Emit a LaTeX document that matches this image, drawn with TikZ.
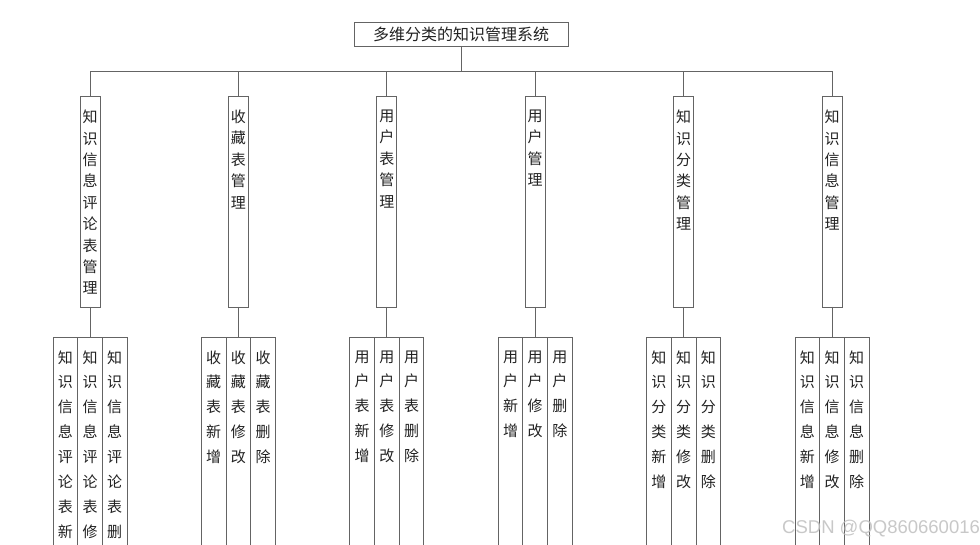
\documentclass[tikz,border=0pt]{standalone}
\usepackage{fontspec}
\setmainfont{Noto Sans CJK SC}
\newfontfamily\wmfont{Liberation Sans}
\usetikzlibrary{positioning}
\definecolor{linec}{HTML}{646464}
\definecolor{textc}{HTML}{222222}
\def\modtext#1{\parbox[c][211pt][t]{20pt}{\centering\vspace*{14pt}#1}}
\def\subtext#1{\parbox[c][230pt][t]{24.7pt}{\centering\vspace*{13.5pt}#1}}
\tikzset{
  sysbox/.style={draw=linec, line width=0.8pt, inner sep=0pt, outer sep=0pt, minimum width=214pt, minimum height=24pt, text=textc, font=\fontsize{16}{18}\selectfont},
  modbox/.style={draw=linec, line width=0.8pt, inner sep=0pt, outer sep=0pt, anchor=north, text=textc, font=\fontsize{15}{21.4}\selectfont},
  subbox/.style={draw=linec, line width=0.8pt, inner sep=0pt, outer sep=0pt, anchor=north, text=textc, font=\fontsize{15}{24.85}\selectfont},
  link/.style={draw=linec, line width=0.8pt}
}

\begin{document}
\begin{tikzpicture}[x=1pt, y=-1pt]
			%%%%% START %%%%%
			\useasboundingbox (0,0) rectangle (980,545);
			\clip (0,0) rectangle (980,545);
			\fill[white] (0,0) rectangle (980,545);
			
			\node[sysbox] (sys) at (461,34) {多维分类的知识管理系统};
			\coordinate (bus) at (461,71);
			
			% second level
			\node[modbox] (m1) at (90,96) {\modtext{知\\识\\信\\息\\评\\论\\表\\管\\理}};
			\node[modbox] (m2) at (238.4,96) {\modtext{收\\藏\\表\\管\\理}};
			\node[modbox] (m3) at (386.8,96) {\modtext{用\\户\\表\\管\\理}};
			\node[modbox] (m4) at (535.2,96) {\modtext{用\\户\\管\\理}};
			\node[modbox] (m5) at (683.6,96) {\modtext{知\\识\\分\\类\\管\\理}};
			\node[modbox] (m6) at (832,96) {\modtext{知\\识\\信\\息\\管\\理}};
			
			% third level
			\node[subbox] (m1b) at (90,337) {\subtext{知\\识\\信\\息\\评\\论\\表\\修\\改}};
			\node[subbox, left=0pt of m1b] (m1a) {\subtext{知\\识\\信\\息\\评\\论\\表\\新\\增}};
			\node[subbox, right=0pt of m1b] (m1c) {\subtext{知\\识\\信\\息\\评\\论\\表\\删\\除}};
			
			\node[subbox] (m2b) at (238.4,337) {\subtext{收\\藏\\表\\修\\改}};
			\node[subbox, left=0pt of m2b] (m2a) {\subtext{收\\藏\\表\\新\\增}};
			\node[subbox, right=0pt of m2b] (m2c) {\subtext{收\\藏\\表\\删\\除}};
			
			\node[subbox] (m3b) at (386.8,337) {\subtext{用\\户\\表\\修\\改}};
			\node[subbox, left=0pt of m3b] (m3a) {\subtext{用\\户\\表\\新\\增}};
			\node[subbox, right=0pt of m3b] (m3c) {\subtext{用\\户\\表\\删\\除}};
			
			\node[subbox] (m4b) at (535.2,337) {\subtext{用\\户\\修\\改}};
			\node[subbox, left=0pt of m4b] (m4a) {\subtext{用\\户\\新\\增}};
			\node[subbox, right=0pt of m4b] (m4c) {\subtext{用\\户\\删\\除}};
			
			\node[subbox] (m5b) at (683.6,337) {\subtext{知\\识\\分\\类\\修\\改}};
			\node[subbox, left=0pt of m5b] (m5a) {\subtext{知\\识\\分\\类\\新\\增}};
			\node[subbox, right=0pt of m5b] (m5c) {\subtext{知\\识\\分\\类\\删\\除}};
			
			\node[subbox] (m6b) at (832,337) {\subtext{知\\识\\信\\息\\修\\改}};
			\node[subbox, left=0pt of m6b] (m6a) {\subtext{知\\识\\信\\息\\新\\增}};
			\node[subbox, right=0pt of m6b] (m6c) {\subtext{知\\识\\信\\息\\删\\除}};
			
			% connectors
			\draw[link] (sys.south) -- (bus);
			\draw[link] (m1.north |- bus) -- (m6.north |- bus);
			\draw[link] (m1.north) -- (m1.north |- bus);
			\draw[link] (m2.north) -- (m2.north |- bus);
			\draw[link] (m3.north) -- (m3.north |- bus);
			\draw[link] (m4.north) -- (m4.north |- bus);
			\draw[link] (m5.north) -- (m5.north |- bus);
			\draw[link] (m6.north) -- (m6.north |- bus);
			\draw[link] (m1.south) -- (m1b.north);
			\draw[link] (m2.south) -- (m2b.north);
			\draw[link] (m3.south) -- (m3b.north);
			\draw[link] (m4.south) -- (m4b.north);
			\draw[link] (m5.south) -- (m5b.north);
			\draw[link] (m6.south) -- (m6b.north);
			
			\node[anchor=base west, inner sep=0pt, text=black!25, opacity=0.85, font=\wmfont\fontsize{18.5}{20}\selectfont] (wm) at (782,533) {CSDN @QQ860660016};
			%%%%% END %%%%%
\end{tikzpicture}
\end{document}
